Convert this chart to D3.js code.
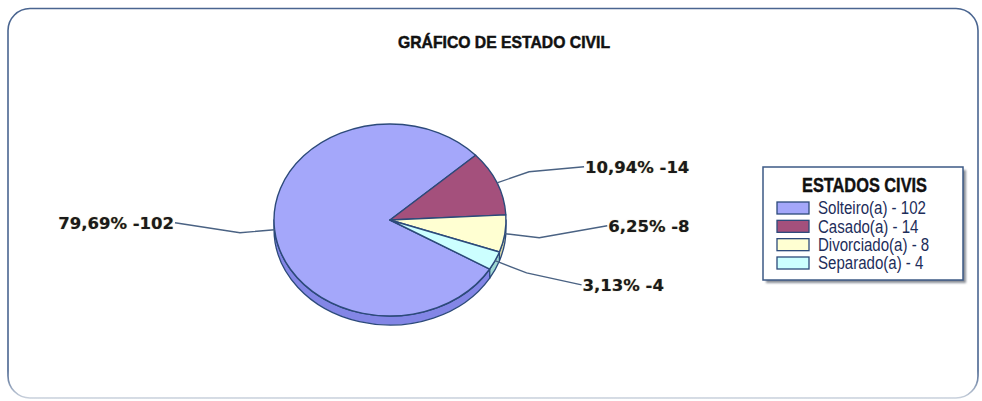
<!DOCTYPE html>
<html>
<head>
<meta charset="utf-8">
<script src="https://cdn.jsdelivr.net/npm/d3@7"></script>
<style>
  body { margin: 0; background: #fff; }
  svg { display: block; }
</style>
</head>
<body>
<div id="chart"></div>
<script>
// chart data
const categories = ["Solteiro(a)", "Casado(a)", "Divorciado(a)", "Separado(a)"];
const counts = [102, 14, 8, 4];
const topColors = ["#a4a7fa", "#a4507c", "#ffffd2", "#ccffff"];
const sideColors = ["#8386e6", "#7c3a5c", "#d8d8a6", "#9fd8d2"];
const chartTitle = "GRÁFICO DE ESTADO CIVIL";
const legendTitle = "ESTADOS CIVIS";

// label placement relative to the leader elbow (layout only)
const labelOffsets = [[-65, -10], [55, -5], [68, -12], [55, 12]];

const W = 982, H = 401;
const cx = 390, cy = 220, rx = 116, ry = 96, depth = 9;

const svg = d3.select('#chart')
    .append('svg')
    .attr('width', W)
    .attr('height', H);

const defs = svg.append('defs');
const grad = defs.append('linearGradient')
    .attr('id', 'frameGrad')
    .attr('x1', 0).attr('y1', 0).attr('x2', 0).attr('y2', 1);
grad.append('stop').attr('offset', '0%').attr('stop-color', '#4a6590');
grad.append('stop').attr('offset', '93%').attr('stop-color', '#4a6590');
grad.append('stop').attr('offset', '100%').attr('stop-color', '#c9d1dc');

defs.append('filter').attr('id', 'shadow')
    .append('feGaussianBlur').attr('stdDeviation', 1.2);

// outer frame
svg.append('rect')
    .attr('x', 8).attr('y', 8.5)
    .attr('width', 970).attr('height', 389.5)
    .attr('rx', 22)
    .attr('fill', '#fff')
    .attr('stroke', 'url(#frameGrad)')
    .attr('stroke-width', 1.6);

// title
svg.append('text')
    .attr('x', 504)
    .attr('y', 48)
    .attr('text-anchor', 'middle')
    .attr('font-family', '"Liberation Sans", Arial, sans-serif')
    .attr('font-weight', 'bold')
    .attr('font-size', 17)
    .attr('textLength', 212)
    .attr('lengthAdjust', 'spacingAndGlyphs')
    .attr('fill', '#111')
    .attr('stroke', '#111')
    .attr('stroke-width', 0.5)
    .text(chartTitle);

// pie layout
const a0 = 120.7 * Math.PI / 180;
const pie = d3.pie().sort(null).startAngle(a0).endAngle(a0 + 2 * Math.PI);
const arcs = pie(counts);
const total = d3.sum(counts);
const fmt = d3.format('.2f');

// project an angle (d3 convention) onto the ellipse
function pt(a, k) {
    return [cx + k * rx * Math.sin(a), cy - k * ry * Math.cos(a)];
}

// 3d side walls (front half only)
const sideG = svg.append('g');
arcs.forEach((d, i) => {
    const lo = Math.PI / 2, hi = 3 * Math.PI / 2;
    let s = d.startAngle % (2 * Math.PI), e = s + (d.endAngle - d.startAngle);
    const ranges = [[s, e], [s - 2 * Math.PI, e - 2 * Math.PI]];
    ranges.forEach(([rs, re]) => {
        const p = Math.max(rs, lo), q = Math.min(re, hi);
        if (q <= p) return;
        const A = pt(p, 1), B = pt(q, 1);
        const large = (q - p) > Math.PI ? 1 : 0;
        const path = 'M' + A[0] + ',' + A[1] +
            ' A' + rx + ',' + ry + ' 0 ' + large + ' 1 ' + B[0] + ',' + B[1] +
            ' L' + B[0] + ',' + (B[1] + depth) +
            ' A' + rx + ',' + ry + ' 0 ' + large + ' 0 ' + A[0] + ',' + (A[1] + depth) + ' Z';
        sideG.append('path')
            .attr('d', path)
            .attr('fill', sideColors[i])
            .attr('stroke', '#2c4a7a')
            .attr('stroke-width', 1.3)
            .attr('stroke-linejoin', 'round');
    });
});

// top face: regular arcs squashed into an ellipse
const arc = d3.arc().innerRadius(0).outerRadius(rx);
svg.append('g')
    .attr('transform', 'translate(' + cx + ',' + cy + ') scale(1,' + (ry / rx) + ')')
    .selectAll('path')
    .data(arcs)
    .enter()
    .append('path')
    .attr('d', arc)
    .attr('fill', (d, i) => topColors[i])
    .attr('stroke', '#2c4a7a')
    .attr('stroke-width', 1.4)
    .attr('stroke-linejoin', 'round')
    .attr('vector-effect', 'non-scaling-stroke');

// leader lines + labels
const labelG = svg.append('g');
arcs.forEach((d, i) => {
    const mid = (d.startAngle + d.endAngle) / 2;
    const p1 = pt(mid, 1);
    const p2 = pt(mid, 1.3);
    const p3 = [p2[0] + labelOffsets[i][0], p2[1] + labelOffsets[i][1]];
    const right = labelOffsets[i][0] > 0;
    labelG.append('polyline')
        .attr('points', [p1, p2, p3].map(p => p.join(',')).join(' '))
        .attr('fill', 'none')
        .attr('stroke', '#4a6283')
        .attr('stroke-width', 1.4);
    labelG.append('text')
        .attr('x', p3[0] + (right ? 1 : -1))
        .attr('y', p3[1])
        .attr('dy', '0.36em')
        .attr('text-anchor', right ? 'start' : 'end')
        .attr('font-family', '"DejaVu Sans", Verdana, sans-serif')
        .attr('font-weight', 'bold')
        .attr('font-size', 16.5)
        .attr('fill', '#1a1a1a')
        .style('text-shadow', '0 0 1px rgba(120,90,0,0.5)')
        .text(fmt(d.value / total * 100).replace('.', ',') + '% -' + d.value);
});

// legend
const legend = svg.append('g');
legend.append('rect')
    .attr('x', 766).attr('y', 170)
    .attr('width', 200).attr('height', 113)
    .attr('fill', '#8a8f98')
    .attr('filter', 'url(#shadow)');
legend.append('rect')
    .attr('x', 763).attr('y', 167)
    .attr('width', 200).attr('height', 113)
    .attr('fill', '#fff')
    .attr('stroke', '#3d5a85')
    .attr('stroke-width', 1.5);
legend.append('text')
    .attr('x', 864.5)
    .attr('y', 192)
    .attr('text-anchor', 'middle')
    .attr('font-family', '"Liberation Sans", Arial, sans-serif')
    .attr('font-weight', 'bold')
    .attr('font-size', 20)
    .attr('textLength', 125)
    .attr('lengthAdjust', 'spacingAndGlyphs')
    .attr('fill', '#111')
    .attr('stroke', '#111')
    .attr('stroke-width', 0.4)
    .text(legendTitle);

const rowY = d3.scalePoint().domain(categories).range([208, 263]);
const rows = legend.selectAll('g.row')
    .data(categories)
    .enter()
    .append('g')
    .attr('class', 'row')
    .attr('transform', d => 'translate(0,' + rowY(d) + ')');
rows.append('rect')
    .attr('x', 777).attr('y', -6)
    .attr('width', 32).attr('height', 12)
    .attr('fill', (d, i) => topColors[i])
    .attr('stroke', '#2c4a7a')
    .attr('stroke-width', 1.3);
rows.append('text')
    .attr('x', 818)
    .attr('y', 0)
    .attr('dy', '0.36em')
    .attr('font-family', '"Liberation Sans", Arial, sans-serif')
    .attr('font-size', 17.5)
    .attr('fill', '#1d2d5a')
    .text((d, i) => d + ' - ' + counts[i])
    .each(function () {
        // condense the glyphs a little, like the narrow original font
        const w = this.getComputedTextLength();
        d3.select(this)
            .attr('textLength', w * 0.86)
            .attr('lengthAdjust', 'spacingAndGlyphs');
    });
</script>
</body>
</html>
